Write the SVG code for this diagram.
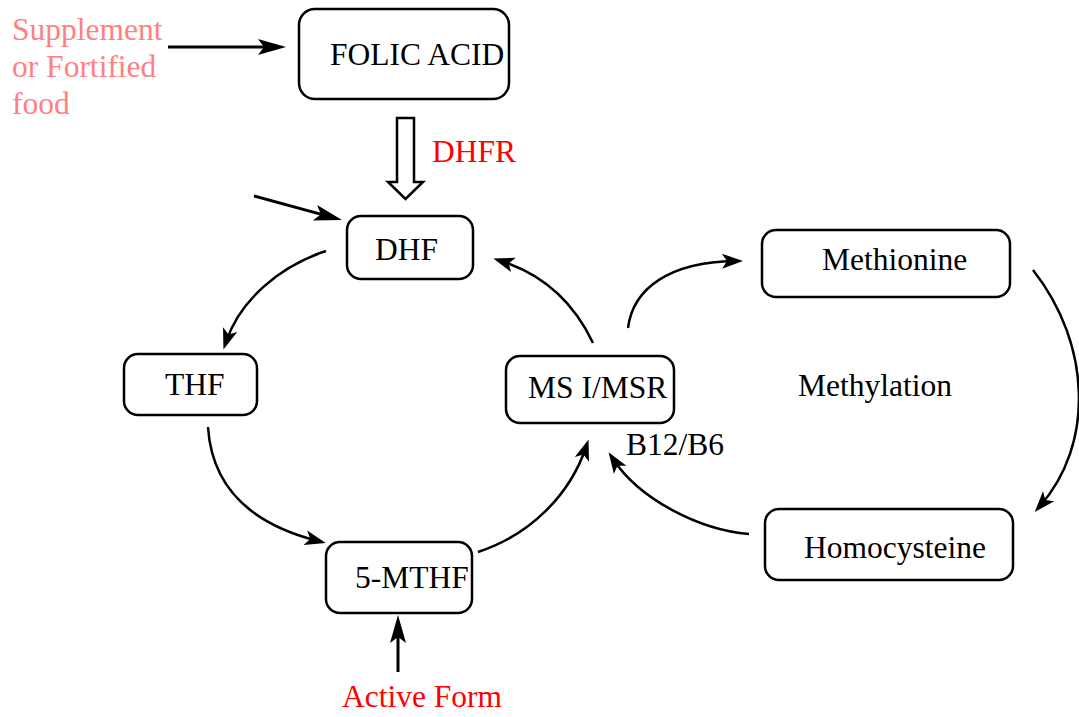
<svg xmlns="http://www.w3.org/2000/svg" width="1079" height="717" viewBox="0 0 1079 717">
<style>
.box{fill:#fff;stroke:#000;stroke-width:2.5}
.t{font-family:"Liberation Serif","Times New Roman",serif;font-size:31.5px;fill:#000}
.red{fill:#ff0000}
.pink{fill:#ff8080}
.c{fill:none;stroke:#000;stroke-width:2.5}
.s{fill:none;stroke:#000;stroke-width:3}
</style>
<defs>
<marker id="big" viewBox="-30 -10 32 20" refX="-10" refY="0" markerWidth="32" markerHeight="20" markerUnits="userSpaceOnUse" orient="auto" overflow="visible">
<path d="M0,0 L-28,-8 L-22,0 L-28,8 Z" fill="#000"/>
</marker>
<marker id="sm" viewBox="-24 -10 26 20" refX="-8" refY="0" markerWidth="26" markerHeight="20" markerUnits="userSpaceOnUse" orient="auto" overflow="visible">
<path d="M0,0 L-21,-7.5 L-16,0 L-21,7.5 Z" fill="#000"/>
</marker>
</defs>
<g id="connectors">
<path class="s" d="M168,47 L276,47" marker-end="url(#big)"/>
<path class="s" d="M254,196 L332.4,217.4" marker-end="url(#big)"/>
<path class="s" d="M398,672 L398,625" marker-end="url(#big)"/>
<polygon points="397,118 414,118 414,182 423,182 405.5,199 388,182 397,182" fill="#fff" stroke="#000" stroke-width="2.5"/>
<path class="c" d="M326,251 C280,266 240,300 226,342" marker-end="url(#sm)"/>
<path class="c" d="M208,427 C212,490 255,525 318,541" marker-end="url(#sm)"/>
<path class="c" d="M478,552 C530,535 570,495 586,447" marker-end="url(#sm)"/>
<path class="c" d="M593,343 C575,305 545,275 501,261" marker-end="url(#sm)"/>
<path class="c" d="M628,328 C633,288 670,262 735,261" marker-end="url(#sm)"/>
<path class="c" d="M749,534 C700,530 640,500 613,459" marker-end="url(#sm)"/>
<path class="c" d="M1033,270 C1092,345 1094,445 1040,506" marker-end="url(#sm)"/>
</g>
<g id="supplement">
<text class="t pink" x="12" y="40">Supplement</text>
<text class="t pink" x="12" y="77">or Fortified</text>
<text class="t pink" x="12" y="114">food</text>
</g>
<g id="folic-acid">
<rect class="box" x="299" y="9" width="210" height="90" rx="16"/>
<text class="t" x="330" y="65">FOLIC ACID</text>
</g>
<g id="dhfr-label"><text class="t red" x="432" y="162">DHFR</text></g>
<g id="dhf">
<rect class="box" x="347" y="216" width="126" height="63" rx="14"/>
<text class="t" x="375" y="260">DHF</text>
</g>
<g id="thf">
<rect class="box" x="124" y="354" width="133" height="61" rx="14"/>
<text class="t" x="165" y="395">THF</text>
</g>
<g id="msr">
<rect class="box" x="506" y="356" width="168" height="67" rx="14"/>
<text class="t" x="528" y="398">MS I/MSR</text>
</g>
<g id="b12"><text class="t" x="626" y="455">B12/B6</text></g>
<g id="methionine">
<rect class="box" x="762" y="230" width="248" height="67" rx="14"/>
<text class="t" x="822" y="270">Methionine</text>
</g>
<g id="methylation"><text class="t" x="798" y="396">Methylation</text></g>
<g id="homocysteine">
<rect class="box" x="765" y="509" width="248" height="71" rx="14"/>
<text class="t" x="804" y="558">Homocysteine</text>
</g>
<g id="mthf">
<rect class="box" x="326" y="542" width="146" height="71" rx="14"/>
<text class="t" x="355" y="588">5-MTHF</text>
</g>
<g id="active-form"><text class="t red" x="342" y="707">Active Form</text></g>
</svg>
